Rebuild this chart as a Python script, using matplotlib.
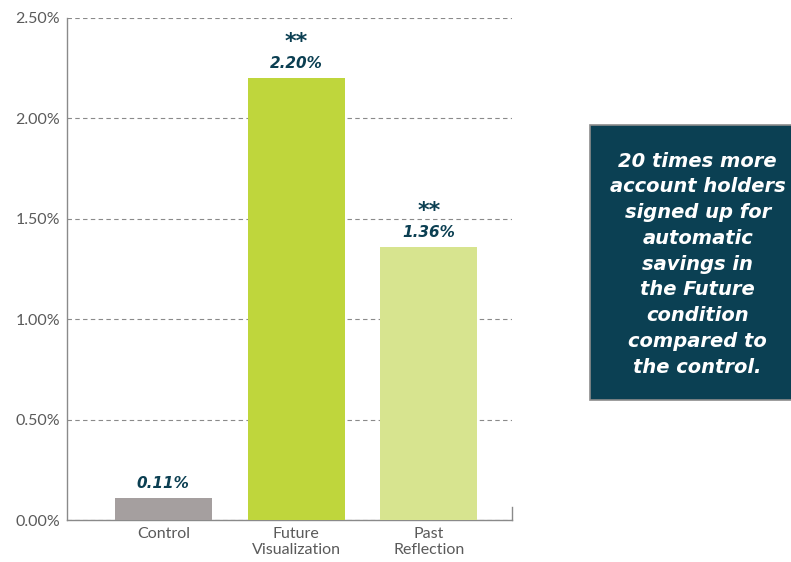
import matplotlib
matplotlib.use("Agg")
import matplotlib.pyplot as plt
from matplotlib.patches import Rectangle
from matplotlib.ticker import FuncFormatter

categories = ["Control", "Future\nVisualization", "Past\nReflection"]
values = [0.11, 2.20, 1.36]
stars = ["", "**", "**"]
colors = ["#a59f9f", "#bfd63c", "#d7e48f"]
yticks = [0.0, 0.5, 1.0, 1.5, 2.0, 2.5]
note = ("20 times more\naccount holders\nsigned up for\nautomatic\nsavings in\n"
        "the Future\ncondition\ncompared to\nthe control.")

teal = "#0b3f52"

fig = plt.figure(figsize=(7.91, 5.62), dpi=100)
ax = fig.add_axes([0.0847, 0.0747, 0.5623, 0.8933])

x = range(len(categories))
ax.bar(x, values, width=0.73, color=colors, zorder=3)
ax.set_xlim(-0.726, 2.624)
ax.set_ylim(0, 2.5)
ax.set_yticks(yticks)
ax.yaxis.set_major_formatter(FuncFormatter(lambda v, p: f"{v:.2f}%"))
ax.set_xticks(list(x))
ax.set_xticklabels(categories)
ax.tick_params(axis="both", length=0, labelsize=11.5, pad=5, labelcolor="#5a5a5a")
for lab in ax.get_yticklabels() + ax.get_xticklabels():
    lab.set_family("Lato")
for lab in ax.get_xticklabels():
    lab.set_linespacing(1.15)

ax.grid(axis="y", linestyle=(0, (4, 3)), color="#8a8a8a", linewidth=0.8, zorder=0)
for s in ["top", "right"]:
    ax.spines[s].set_visible(False)
for s in ["left", "bottom"]:
    ax.spines[s].set_color("#8a8a8a")
    ax.spines[s].set_linewidth(1.0)
ax.plot([1, 1], [0, 0.025], transform=ax.transAxes, color="#8a8a8a", lw=1.0, clip_on=False)

for i, v in enumerate(values):
    ax.annotate(f"{v:.2f}%", (i, v), xytext=(0, 5), textcoords="offset points",
                ha="center", va="bottom", fontsize=11, fontweight="bold",
                style="italic", color=teal, family="DejaVu Sans", zorder=4)
    if stars[i]:
        ax.annotate(stars[i], (i, v), xytext=(0, 19), textcoords="offset points",
                    ha="center", va="bottom", fontsize=16, fontweight="bold",
                    color=teal, family="DejaVu Sans", zorder=4)

fig.patches.append(Rectangle((0.746, 0.288), 0.26, 0.49, transform=fig.transFigure,
                             facecolor="#0b4053", edgecolor="#8c8c8c", linewidth=1.2))
fig.text(0.882, 0.530, note, ha="center", va="center", color="white",
         fontsize=14, fontweight="bold", style="italic", family="DejaVu Sans",
         linespacing=1.45)

fig.savefig("out.png", dpi=100)
